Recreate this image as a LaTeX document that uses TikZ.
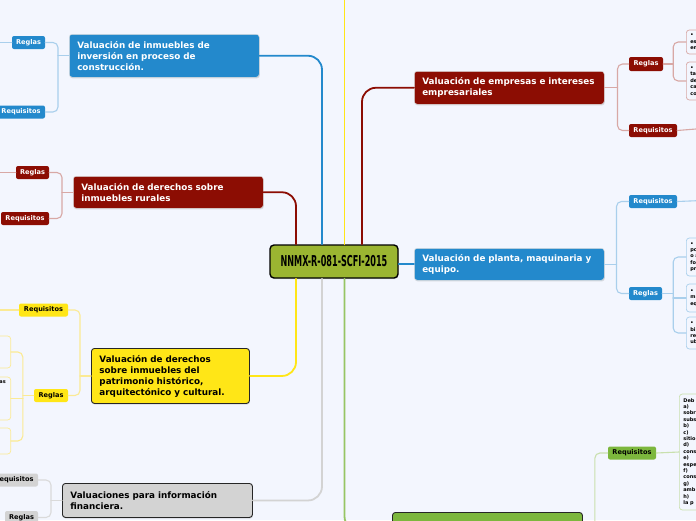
\documentclass[tikz,border=0pt]{standalone}
\usepackage{fontspec}
\usepackage{graphicx}
\setmainfont{DejaVu Sans}
\usetikzlibrary{shadows}
\definecolor{bgc}{HTML}{F3F6FE}
\definecolor{rootc}{HTML}{9BB531}
\definecolor{bluec}{HTML}{2389CC}
\definecolor{bluel}{HTML}{A9CFEC}
\definecolor{redc}{HTML}{8C0D03}
\definecolor{redl}{HTML}{D8A8A5}
\definecolor{yelc}{HTML}{FFE617}
\definecolor{yell}{HTML}{FBEA94}
\definecolor{grayc}{HTML}{D3D3D3}
\definecolor{grayl}{HTML}{DADADA}
\definecolor{grec}{HTML}{7CB73D}
\definecolor{grel}{HTML}{C9E0AE}
\begin{document}
\begin{tikzpicture}[x=1pt,y=-1pt,line cap=round,line join=round]
\tikzset{
  topic/.style={anchor=north west,rounded corners=3pt,text width=174pt,inner xsep=8pt,inner ysep=3pt,align=left,
    font=\bfseries\fontsize{8.8}{11}\selectfont,drop shadow={shadow xshift=0.5pt,shadow yshift=-1.2pt,opacity=0.25}},
  light/.style={topic,text=white,draw=white!75!gray,line width=0.5pt},
  dark/.style={topic,text=black,draw=black!85,line width=0.9pt},
  rootbox/.style={draw=black,line width=1.4pt,fill=rootc,rounded corners=4pt,minimum width=128pt,minimum height=33pt,
    inner sep=0pt,font=\bfseries\fontsize{15}{15}\selectfont,drop shadow={shadow xshift=0.5pt,shadow yshift=-1.2pt,opacity=0.25}},
  tag/.style={rounded corners=2pt,inner sep=0pt,minimum height=13pt,font=\bfseries\fontsize{6.6}{7}\selectfont},
  leaf/.style={anchor=west,rounded corners=3pt,fill=bgc,line width=0.7pt,inner xsep=4pt,inner ysep=0pt,text width=40pt,
    align=left,font=\bfseries\fontsize{5}{6.4}\selectfont},
  main/.style={line width=1.8pt,rounded corners=14pt},
  sub/.style={line width=1.1pt,rounded corners=5pt}
}
\useasboundingbox (0,0) rectangle (696,520);
\fill[bgc] (0,0) rectangle (696,520);
\clip (0,0) rectangle (696,520);

\coordinate (xa) at (296,0);
\coordinate (xb) at (322,0);
\coordinate (xc) at (344.5,0);
\coordinate (xd) at (362,0);
\coordinate (xtop) at (344.5,-10);

\node[rootbox] (root) at (334,261.5) {\scalebox{0.54}[1]{NNMX-R-081-SCFI-2015}};

\node[light,fill=bluec,minimum height=43pt] (inv) at (69,34) {Valuación de inmuebles de\\inversión en proceso de\\construcción.};
\node[tag,fill=bluec,text=white,minimum width=33pt] (invreg) at (28.5,42.5) {Reglas};
\node[tag,fill=bluec,text=white,minimum width=48pt] (invreq) at (21,112) {Requisitos};

\node[light,fill=redc,minimum height=32pt] (rur) at (73,176) {Valuación de derechos sobre\\inmuebles rurales};
\node[tag,fill=redc,text=white,minimum width=33pt] (rurreg) at (32.5,172.5) {Reglas};
\node[tag,fill=redc,text=white,minimum width=48pt] (rurreq) at (25,218.5) {Requisitos};

\node[dark,fill=yelc,minimum height=55pt,text width=142pt] (pat) at (91,348) {Valuación de derechos\\sobre inmuebles del\\patrimonio histórico,\\arquitectónico y cultural.};
\node[tag,fill=yelc,minimum width=49pt] (patreq) at (43.5,310) {Requisitos};
\node[tag,fill=yelc,minimum width=34pt] (patreg) at (51,395.5) {Reglas};
\node[leaf,draw=yell,anchor=east,minimum height=32pt] (pat1) at (11,352) {};
\node[leaf,draw=yell,anchor=east,minimum height=43pt] (pat2) at (11,398.5) {};
\node[leaf,draw=yell,anchor=east,minimum height=26pt] (pat3) at (11,441) {};
\node[font=\bfseries\fontsize{5}{6}\selectfont,anchor=north east,inner sep=0pt] (pat2t) at (6,380) {as};

\node[dark,fill=grayc,minimum height=34pt] (fin) at (62,483) {Valuaciones para información\\financiera.};
\node[tag,fill=grayc,minimum width=48pt] (finreq) at (14,480) {Requisitos};
\node[tag,fill=grayc,minimum width=33pt] (finreg) at (21.5,517.5) {Reglas};

\node[light,fill=redc,minimum height=33pt] (emp) at (414,71) {Valuación de empresas e intereses\\empresariales};
\node[tag,fill=redc,text=white,minimum width=34pt,minimum height=14pt] (empreg) at (646,64) {Reglas};
\node[tag,fill=redc,text=white,minimum width=48pt] (empreq) at (653,130.5) {Requisitos};
\node[leaf,draw=redl,minimum height=24pt] (emp1) at (686,42) {•\\es\\en};
\node[leaf,draw=redl,minimum height=38pt] (emp2) at (686,81) {•\\ta\\de\\ca\\co};

\node[light,fill=bluec,minimum height=32pt] (pla) at (414,248) {Valuación de planta, maquinaria y\\equipo.};
\node[tag,fill=bluec,text=white,minimum width=48pt] (plareq) at (653,201.5) {Requisitos};
\node[tag,fill=bluec,text=white,minimum width=33pt] (plareg) at (645.5,293.5) {Reglas};
\node[leaf,draw=bluel,minimum height=38pt] (pla1) at (686,257) {•\\po\\o a\\fo\\pr};
\node[leaf,draw=bluel,minimum height=28pt] (pla2) at (686,298) {•\\m\\eq};
\node[leaf,draw=bluel,minimum height=32pt] (pla3) at (686,333) {•\\bi\\re\\ub};

\node[dark,fill=grec,minimum height=36pt] (gre) at (392,512) {};
\node[tag,fill=grec,minimum width=48pt] (grereq) at (632,453) {Requisitos};
\node[leaf,draw=grel,minimum height=116pt] (gre1) at (679,452) {Deb\\a)\\sobr\\subs\\b)\\c)\\sitio\\d)\\cons\\e)\\espe\\f)\\cons\\g)\\amb\\h)\\la p};

\draw[main,bluec] (root.north -| xb) |- (inv.east);
\draw[main,redc] (root.north -| xa) |- (rur.east);
\draw[main,redc] (root.north -| xd) |- (emp.west);
\draw[main,yelc] (root.north -| xc) -- (xtop);
\draw[main,yelc] (root.south -| xa) |- (pat.east);
\draw[main,grayc] (root.south -| xb) |- (fin.east);
\draw[main,grec!80!white] (root.south -| xc) |- (gre.west);
\draw[main,bluec] (root.east |- pla.west) -- (pla.west);

\draw[sub,bluel] (inv.west) -- ++(-11,0);
\draw[sub,bluel] (invreg.east) -| ([xshift=-11pt]inv.west) |- (invreq.east);
\draw[sub,bluel] (invreg.west) -- ++(-20,0);

\draw[sub,redl] (rur.west) -- ++(-11,0);
\draw[sub,redl] (rurreg.east) -| ([xshift=-11pt]rur.west) |- (rurreq.east);
\draw[sub,redl] (rurreg.west) -- ++(-20,0);

\draw[sub,yell] (pat.west) -- ++(-11,0);
\draw[sub,yell] (patreq.east) -| ([xshift=-11pt]pat.west) |- (patreg.east);
\draw[sub,yell] (patreq.west) -- ++(-25,0);
\draw[sub,yell] (patreg.west) -- ++(-11,0);
\draw[sub,yell] (pat1.east) -| ([xshift=-11pt]patreg.west) |- (pat3.east);
\draw[sub,yell] (pat2.east) -- ++(12,0);

\draw[sub,grayl] (fin.west) -- ++(-11,0);
\draw[sub,grayl] (finreq.east) -| ([xshift=-11pt]fin.west) |- (finreg.east);

\draw[sub,redl] (emp.east) -- ++(13,0);
\draw[sub,redl] (empreg.west) -| ([xshift=13pt]emp.east) |- (empreq.west);
\draw[sub,redl] (empreg.east) -- ++(10,0);
\draw[sub,redl] (emp1.west) -| ([xshift=10pt]empreg.east) |- (emp2.west);
\draw[sub,redl] (empreq.east) -- ++(25,-2);

\draw[sub,bluel] (pla.east) -- ++(12,0);
\draw[sub,bluel] (plareq.west) -| ([xshift=12pt]pla.east) |- (plareg.west);
\draw[sub,bluel] (plareg.east) -- ++(11,0);
\draw[sub,bluel] (pla1.west) -| ([xshift=11pt]plareg.east) |- (pla3.west);
\draw[sub,bluel] (pla2.west) -- ++(-13,0);
\draw[sub,bluel] (plareq.east) -- ++(25,-1);

\draw[sub,grel] (gre.east) -- ++(12,0);
\draw[sub,grel] (grereq.west) -| ([xshift=12pt]gre.east) -- ++(0,40);
\draw[sub,grel] (grereq.east) -- (gre1.west);
\end{tikzpicture}
\end{document}
